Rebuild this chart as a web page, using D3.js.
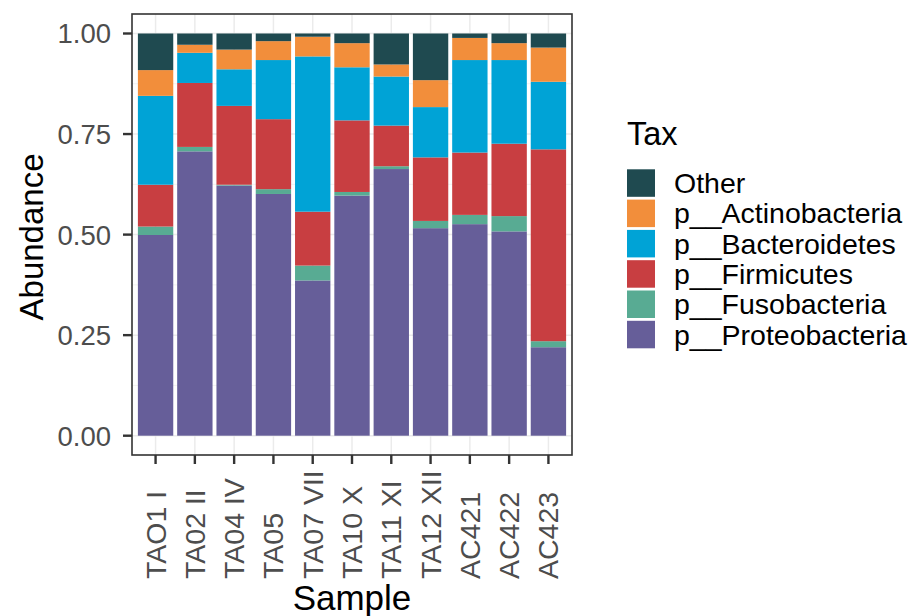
<!DOCTYPE html>
<html><head><meta charset="utf-8">
<script src="https://cdn.jsdelivr.net/npm/d3@7"></script>
<style>body{margin:0;background:#fff}svg{display:block;font-family:"Liberation Sans",Arial,sans-serif}</style>
</head><body><svg id="c" width="911" height="616"></svg>
<script>
const samples = ["TAO1 I","TA02 II","TA04 IV","TA05","TA07 VII","TA10 X","TA11 XI","TA12 XII","AC421","AC422","AC423"];
const taxa = ["Other","p__Actinobacteria","p__Bacteroidetes","p__Firmicutes","p__Fusobacteria","p__Proteobacteria"];
const colors = ["#1f4a50","#f28e3b","#00a3d6","#c83e41","#58ab93","#665e99"];
// values per sample (bottom to top stacking order: Proteobacteria first)
const proteobacteria = [0.499,0.707,0.622,0.601,0.386,0.597,0.663,0.516,0.526,0.508,0.220];
const fusobacteria   = [0.021,0.011,0.002,0.012,0.037,0.009,0.007,0.018,0.023,0.038,0.015];
const firmicutes     = [0.104,0.159,0.196,0.174,0.134,0.178,0.101,0.158,0.155,0.180,0.477];
const bacteroidetes  = [0.221,0.075,0.091,0.147,0.386,0.132,0.122,0.125,0.230,0.208,0.168];
const actinobacteria = [0.064,0.020,0.049,0.047,0.049,0.060,0.030,0.067,0.055,0.042,0.085];
const other          = [0.091,0.028,0.040,0.019,0.008,0.024,0.077,0.116,0.011,0.024,0.035];
const yTicks = [0,0.25,0.5,0.75,1];

const series = {"p__Proteobacteria":proteobacteria,"p__Fusobacteria":fusobacteria,"p__Firmicutes":firmicutes,"p__Bacteroidetes":bacteroidetes,"p__Actinobacteria":actinobacteria,"Other":other};
const stackOrder = ["p__Proteobacteria","p__Fusobacteria","p__Firmicutes","p__Bacteroidetes","p__Actinobacteria","Other"];
const rows = samples.map((s,i)=>{const r={sample:s}; stackOrder.forEach(k=>r[k]=series[k][i]); return r;});
const stacked = d3.stack().keys(stackOrder)(rows);
const color = d3.scaleOrdinal().domain(taxa).range(colors);

const svg = d3.select("#c");
const P = {l:132, r:572, t:14, b:455};
// ggplot-like discrete scale: expansion 0.6 units on each side
const x = d3.scalePoint().domain(samples).range([0, samples.length-1]);
const unit = (P.r-P.l)/(samples.length-1+1.2);
const xc = s => P.l + unit*(0.6+x(s));
const bw = unit*0.9;
const y = d3.scaleLinear().domain([0,1]).range([435.7,33.5]);

// grid
const g = svg.append("g");
const minor = [0.125,0.375,0.625,0.875];
g.selectAll(".mn").data(minor).join("line").attr("x1",P.l).attr("x2",P.r).attr("y1",d=>y(d)).attr("y2",d=>y(d)).attr("stroke","#f2f2f2").attr("stroke-width",1);
g.selectAll(".mj").data(yTicks).join("line").attr("x1",P.l).attr("x2",P.r).attr("y1",d=>y(d)).attr("y2",d=>y(d)).attr("stroke","#ebebeb").attr("stroke-width",1.5);
g.selectAll(".vx").data(samples).join("line").attr("x1",d=>xc(d)).attr("x2",d=>xc(d)).attr("y1",P.t).attr("y2",P.b).attr("stroke","#ebebeb").attr("stroke-width",1.5);

// bars
svg.append("g").selectAll("g").data(stacked).join("g").attr("fill",d=>color(d.key))
  .selectAll("rect").data(d=>d).join("rect")
  .attr("x",d=>xc(d.data.sample)-bw/2).attr("width",bw)
  .attr("y",d=>y(d[1])).attr("height",d=>y(d[0])-y(d[1]));

// border
svg.append("rect").attr("x",P.l).attr("y",P.t).attr("width",P.r-P.l).attr("height",P.b-P.t).attr("fill","none").attr("stroke","#333").attr("stroke-width",1.6);

// y axis ticks/labels
const ya = svg.append("g");
ya.selectAll("line").data(yTicks).join("line").attr("x1",P.l-9).attr("x2",P.l).attr("y1",d=>y(d)).attr("y2",d=>y(d)).attr("stroke","#333").attr("stroke-width",2.4);
ya.selectAll("text").data(yTicks).join("text").attr("x",111).attr("y",d=>y(d)).attr("dy","0.36em").attr("text-anchor","end").attr("font-size",27.5).attr("fill","#4d4d4d").text(d=>d3.format(".2f")(d));

// x axis ticks/labels
const xa = svg.append("g");
xa.selectAll("line").data(samples).join("line").attr("x1",d=>xc(d)).attr("x2",d=>xc(d)).attr("y1",P.b).attr("y2",P.b+9).attr("stroke","#333").attr("stroke-width",2.4);
xa.selectAll("text").data(samples).join("text").attr("transform",d=>`translate(${xc(d)+10},579) rotate(-90)`).attr("text-anchor","start").attr("font-size",28.5).attr("fill","#4d4d4d").text(d=>d);

// titles
svg.append("text").attr("transform","translate(42.5,237) rotate(-90)").attr("text-anchor","middle").attr("font-size",33).attr("fill","#000").text("Abundance");
svg.append("text").attr("x",352).attr("y",610).attr("text-anchor","middle").attr("font-size",35).attr("fill","#000").text("Sample");

// legend
const lg = svg.append("g");
lg.append("text").attr("x",627).attr("y",145).attr("font-size",32.5).attr("fill","#000").text("Tax");
const it = lg.selectAll(".it").data(taxa).join("g").attr("transform",(d,i)=>`translate(627,${169.3+i*30.3})`);
it.append("rect").attr("width",28).attr("height",27.5).attr("fill",d=>color(d));
it.append("text").attr("x",47).attr("y",13.75+10).attr("font-size",28.5).attr("fill","#000").text(d=>d);
</script></body></html>
